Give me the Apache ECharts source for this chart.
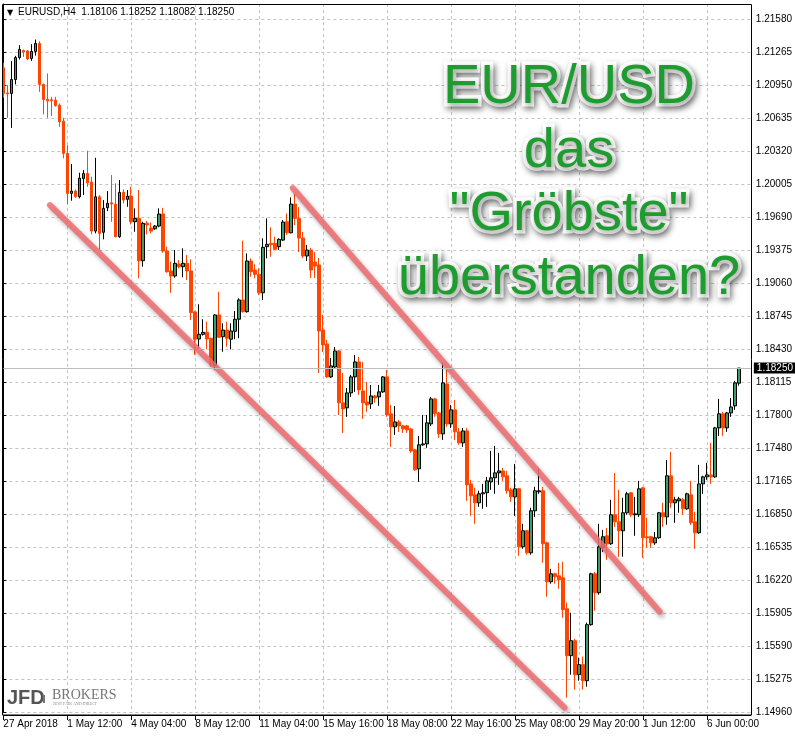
<!DOCTYPE html>
<html><head><meta charset="utf-8">
<script src="https://cdn.jsdelivr.net/npm/echarts@6/dist/echarts.min.js"></script>
<style>html,body{margin:0;padding:0;background:#fff}#c{width:795px;height:736px}</style>
</head><body><div id="c"></div>
<script>
// EURUSD H4 candles (from 27 Apr 2018 to 6 Jun 2018)
const opens = [1.21118,1.20879,1.20874,1.21007,1.21217,1.21284,1.21280,1.21208,1.21275,1.21351,1.20960,1.20819,1.20813,1.20810,1.20762,1.20609,1.20301,1.19919,1.19941,1.19887,
1.20059,1.20110,1.20027,1.19559,1.19887,1.19547,1.19782,1.19829,1.19817,1.19505,1.19929,1.19862,1.19893,1.19648,1.19680,1.19276,1.19633,1.19588,1.19581,1.19607,
1.19722,1.19368,1.19178,1.19130,1.19244,1.19219,1.19251,1.19178,1.18786,1.18528,1.18573,1.18592,1.18535,1.18274,1.18758,1.18550,1.18614,1.18526,1.18602,1.18717,
1.18901,1.18789,1.19273,1.19187,1.19146,1.18970,1.19410,1.19442,1.19442,1.19410,1.19473,1.19648,1.19543,1.19817,1.19680,1.19492,1.19321,1.19378,1.19263,1.19235,
1.18614,1.18481,1.18166,1.18261,1.18414,1.17918,1.17870,1.18013,1.18166,1.18309,1.18032,1.17927,1.17908,1.17984,1.17975,1.18023,1.18166,1.17813,1.17689,1.17736,
1.17698,1.17698,1.17669,1.17469,1.17288,1.17517,1.17526,1.17717,1.17956,1.17822,1.17622,1.18099,1.17717,1.17851,1.17641,1.17536,1.17650,1.17144,1.17039,1.16963,
1.17049,1.17059,1.17163,1.17202,1.17249,1.17268,1.17221,1.17087,1.17020,1.17097,1.16543,1.16696,1.16486,1.16887,1.17068,1.17078,1.16581,1.16209,1.16285,1.16266,
1.16247,1.15951,1.15503,1.15646,1.15321,1.15417,1.15264,1.15799,1.16285,1.16104,1.16534,1.16648,1.16572,1.16849,1.16782,1.16696,1.16868,1.17059,1.16849,1.16849,
1.17106,1.16639,1.16639,1.16581,1.16629,1.16868,1.16829,1.17221,1.16963,1.16982,1.16992,1.16906,1.17039,1.16782,1.16677,1.17144,1.17211,1.17230,1.17211,1.17679,
1.17813,1.17679,1.17822,1.17889,1.18106];
const highs = [1.21166,1.20953,1.21182,1.21233,1.21335,1.21294,1.21287,1.21344,1.21389,1.21373,1.20969,1.21065,1.20841,1.20841,1.20778,1.20641,1.20380,1.20199,1.19957,1.20116,
1.20142,1.20326,1.20078,1.20259,1.19903,1.19855,1.19941,1.20094,1.20015,1.20046,1.19957,1.19951,1.19982,1.19776,1.19951,1.19648,1.19655,1.19642,1.19617,1.19776,
1.19782,1.19410,1.19266,1.19378,1.19282,1.19394,1.19330,1.19289,1.18796,1.18860,1.18717,1.18694,1.18541,1.18767,1.18980,1.18678,1.18694,1.18678,1.18796,1.18917,
1.19467,1.19346,1.19299,1.19241,1.19203,1.19490,1.19680,1.19595,1.19505,1.19490,1.19664,1.19728,1.19881,1.19919,1.19788,1.19550,1.19426,1.19397,1.19359,1.19302,
1.18758,1.18519,1.18347,1.18452,1.18423,1.18204,1.18061,1.18185,1.18376,1.18357,1.18309,1.18118,1.18089,1.17994,1.18089,1.18175,1.18232,1.17898,1.17889,1.17755,
1.17708,1.17708,1.17679,1.17478,1.17603,1.17803,1.17803,1.17975,1.17965,1.17832,1.18299,1.18232,1.17898,1.17946,1.17679,1.17679,1.17679,1.17183,1.17106,1.17078,
1.17144,1.17211,1.17459,1.17507,1.17440,1.17297,1.17268,1.17106,1.17335,1.17106,1.16763,1.16705,1.16915,1.17116,1.17288,1.17116,1.16591,1.16333,1.16295,1.16390,
1.16400,1.16009,1.15913,1.15665,1.15484,1.15493,1.15818,1.16295,1.16304,1.16763,1.16705,1.16724,1.16992,1.17249,1.17087,1.17011,1.17068,1.17068,1.17020,1.17173,
1.17116,1.16820,1.16648,1.16686,1.16877,1.16963,1.17373,1.17450,1.17020,1.17020,1.17011,1.17059,1.17173,1.16877,1.17326,1.17221,1.17345,1.17536,1.17689,1.17956,
1.17832,1.17832,1.17965,1.18128,1.18252];
const lows = [1.20832,1.20641,1.20545,1.20960,1.21198,1.21223,1.21192,1.21185,1.21236,1.20889,1.20673,1.20641,1.20657,1.20746,1.20555,1.20253,1.19817,1.19849,1.19877,1.19871,
1.19903,1.19982,1.19528,1.19537,1.19378,1.19480,1.19750,1.19648,1.19499,1.19495,1.19824,1.19791,1.19623,1.19553,1.19108,1.19219,1.19528,1.19537,1.19569,1.19595,
1.19352,1.19161,1.18970,1.19114,1.19203,1.19117,1.19092,1.18710,1.18376,1.18440,1.18560,1.18430,1.18264,1.18233,1.18541,1.18407,1.18455,1.18430,1.18526,1.18535,
1.18780,1.18780,1.19123,1.19108,1.18948,1.18901,1.19299,1.19314,1.19378,1.19378,1.19464,1.19521,1.19537,1.19617,1.19359,1.19302,1.19273,1.19111,1.19111,1.18204,
1.18404,1.18156,1.18156,1.18242,1.17803,1.17631,1.17784,1.17975,1.18023,1.17994,1.17765,1.17832,1.17860,1.17918,1.17889,1.18013,1.17784,1.17498,1.17612,1.17641,
1.17631,1.17631,1.17440,1.17268,1.17163,1.17507,1.17488,1.17698,1.17784,1.17583,1.17564,1.17689,1.17679,1.17564,1.17517,1.17498,1.16982,1.16839,1.16763,1.16925,
1.16906,1.16925,1.17087,1.17049,1.17135,1.17173,1.17049,1.16973,1.16839,1.16457,1.16524,1.16467,1.16467,1.16829,1.17049,1.16390,1.16066,1.16190,1.16190,1.16142,
1.15865,1.15102,1.15321,1.15178,1.15264,1.15178,1.15207,1.15789,1.15932,1.16085,1.16495,1.16419,1.16562,1.16734,1.16448,1.16448,1.16849,1.16829,1.16648,1.16829,
1.16438,1.16534,1.16534,1.16562,1.16619,1.16734,1.16753,1.16915,1.16772,1.16868,1.16849,1.16896,1.16753,1.16524,1.16667,1.17049,1.17183,1.17144,1.17202,1.17603,
1.17603,1.17641,1.17784,1.17851,1.18082];
const closes = [1.20874,1.20870,1.21007,1.21217,1.21294,1.21271,1.21204,1.21275,1.21351,1.20960,1.20816,1.20803,1.20803,1.20759,1.20603,1.20301,1.19919,1.19941,1.19887,1.20065,
1.20110,1.20020,1.19559,1.19887,1.19537,1.19776,1.19824,1.19817,1.19505,1.19929,1.19855,1.19893,1.19648,1.19680,1.19276,1.19633,1.19617,1.19559,1.19607,1.19722,
1.19368,1.19171,1.19130,1.19251,1.19219,1.19251,1.19178,1.18780,1.18526,1.18573,1.18592,1.18528,1.18280,1.18758,1.18545,1.18614,1.18535,1.18605,1.18717,1.18901,
1.18789,1.19273,1.19171,1.19146,1.18970,1.19404,1.19432,1.19429,1.19385,1.19480,1.19645,1.19543,1.19817,1.19680,1.19492,1.19321,1.19378,1.19187,1.19225,1.18605,
1.18471,1.18166,1.18271,1.18414,1.17918,1.17860,1.18013,1.18166,1.18309,1.18042,1.17918,1.17898,1.17984,1.17965,1.18023,1.18166,1.17803,1.17689,1.17736,1.17698,
1.17669,1.17660,1.17459,1.17278,1.17517,1.17526,1.17727,1.17956,1.17813,1.17622,1.18109,1.17717,1.17851,1.17641,1.17536,1.17650,1.17135,1.17030,1.16963,1.17049,
1.17059,1.17173,1.17202,1.17249,1.17268,1.17211,1.17078,1.17020,1.17097,1.16543,1.16696,1.16486,1.16887,1.17078,1.17078,1.16572,1.16209,1.16285,1.16257,1.16228,
1.15942,1.15503,1.15646,1.15321,1.15417,1.15264,1.15799,1.16285,1.16104,1.16543,1.16639,1.16572,1.16849,1.16782,1.16696,1.16868,1.17049,1.16849,1.16858,1.17097,
1.16629,1.16629,1.16581,1.16629,1.16868,1.16829,1.17221,1.16963,1.16992,1.17001,1.16906,1.17049,1.16772,1.16677,1.17144,1.17211,1.17230,1.17211,1.17679,1.17813,
1.17679,1.17822,1.17879,1.18109,1.18250];

// bar slots on the time axis (the last ones are the empty right margin)
const BAR_COUNT = 188;
const categories = Array.from({length: BAR_COUNT}, (_, i) => 'bar' + i);
const LABEL_EVERY = 16;
const xTickLabels = ['27 Apr 2018','1 May 12:00','4 May 04:00','8 May 12:00','11 May 04:00','15 May 16:00',
  '18 May 08:00','22 May 16:00','25 May 08:00','29 May 20:00','1 Jun 12:00','6 Jun 00:00'];
const yTickLabels = ['1.14960','1.15275','1.15590','1.15905','1.16220','1.16535','1.16850','1.17165','1.17480','1.17800','1.18115',
  '1.18430','1.18745','1.19060','1.19375','1.19690','1.20005','1.20320','1.20635','1.20950','1.21265','1.21580'];
const Y_MIN = 1.14960, Y_TOP_TICK = 1.21580;
const Y_STEP = (Y_TOP_TICK - Y_MIN) / (yTickLabels.length - 1);
const Y_MAX = 1.217283;

// channel trend lines: [bar index, price]
const lowerChannel = [[11.67, 1.19807], [140.4, 1.15006]];
const upperChannel = [[72.4, 1.19970], [164.2, 1.15923]];

const headline = ['EUR/USD', 'das', '"Gröbste"', 'überstanden?'];

const candleData = opens.map((o, i) => [o, closes[i], lows[i], highs[i]]);
const last = closes.length - 1;
const FONT = '"Liberation Sans", Arial, sans-serif';
const gridLine = {show: true, lineStyle: {color: '#c4c4c4', type: [3, 3], width: 1}};
const showIdx = (idx) => idx % LABEL_EVERY === 0 && idx / LABEL_EVERY < xTickLabels.length;

const chart = echarts.init(document.getElementById('c'), null, {renderer: 'canvas'});
const channelStyle = {color: 'rgba(240,110,115,0.85)', width: 6, cap: 'round',
  shadowColor: 'rgba(0,0,0,0.35)', shadowBlur: 4, shadowOffsetX: 2, shadowOffsetY: 3};

chart.setOption({
  animation: false,
  backgroundColor: '#fff',
  grid: {left: 3.33, right: 43.67, top: 4, bottom: 23.5, containLabel: false},
  xAxis: [{
    type: 'category', data: categories, boundaryGap: false, offset: 2.5,
    axisLine: {show: true, lineStyle: {color: '#000', width: 1}},
    axisTick: {show: true, interval: (i) => showIdx(i), length: 5, lineStyle: {color: '#000'}},
    axisLabel: {interval: (i) => showIdx(i), align: 'left', margin: 4, fontFamily: FONT, fontSize: 10, color: '#000',
      formatter: (v, idx) => xTickLabels[idx / LABEL_EVERY] || ''},
    splitLine: Object.assign({interval: (i) => showIdx(i)}, gridLine)
  }, {
    type: 'value', min: 0, max: BAR_COUNT - 1, show: false
  }],
  yAxis: {
    type: 'value', position: 'right', min: Y_MIN, max: Y_MAX, interval: Y_STEP, scale: true,
    axisLine: {show: true, lineStyle: {color: '#000', width: 1}},
    axisTick: {show: true, length: 3, lineStyle: {color: '#000'}},
    axisLabel: {margin: 5, fontFamily: FONT, fontSize: 10, color: '#000', showMaxLabel: false,
      formatter: (v) => { const k = Math.round((v - Y_MIN) / Y_STEP); return yTickLabels[k] || ''; }},
    splitLine: gridLine
  },
  series: [{
    type: 'candlestick', data: candleData, barWidth: 3, z: 2,
    itemStyle: {color: '#3a9d6a', color0: '#ff4500', borderColor: '#000', borderColor0: '#ff4500', borderWidth: 1}
  }, {
    type: 'line', xAxisIndex: 1, data: lowerChannel, symbol: 'none', z: 3, lineStyle: channelStyle, silent: true,
    markLine: {
      silent: true, symbol: 'none', animation: false, precision: 5,
      data: [{yAxis: closes[last]}],
      lineStyle: {color: '#bdbdbd', type: 'solid', width: 1, shadowBlur: 0, shadowColor: 'transparent'},
      label: {show: true, position: 'end', distance: 3, formatter: closes[last].toFixed(5),
        backgroundColor: '#000', color: '#fff', fontFamily: FONT, fontSize: 10, padding: [1, 3, 0, 3]}
    }
  }, {
    type: 'line', xAxisIndex: 1, data: upperChannel, symbol: 'none', z: 3, lineStyle: channelStyle, silent: true
  }],
  graphic: [
    {type: 'rect', z: 50, silent: true, shape: {x: 2.5, y: 4.5, width: 749, height: 710.5},
      style: {fill: 'none', stroke: '#000', lineWidth: 1}},
    {type: 'text', z: 50, left: 7, top: 9, style: {text: '▼', font: '8px "DejaVu Sans"', fill: '#000'}},
    {type: 'text', z: 50, left: 18, top: 7, style: {
      text: 'EURUSD,H4  ' + [opens[last], highs[last], lows[last], closes[last]].map(v => v.toFixed(5)).join(' '),
      font: '10px ' + FONT, fill: '#000'}},
    ...headline.map((t, k) => ({
      type: 'text', z: 100, silent: true, x: 569, y: 88 + k * 63.5,
      style: {text: t, font: '56px ' + FONT, fill: '#1f9c30',
        stroke: '#fff', lineWidth: 7, align: 'center', verticalAlign: 'middle',
        textShadowColor: 'rgba(0,0,0,0.45)', textShadowBlur: 6, textShadowOffsetX: 2, textShadowOffsetY: 3}
    })),
    {type: 'text', z: 50, x: 7, y: 698, style: {text: 'JFD', font: 'bold 20px ' + FONT, fill: '#555', verticalAlign: 'middle'}},
    {type: 'rect', z: 50, shape: {x: 43, y: 695, width: 2, height: 8}, style: {fill: '#777'}},
    {type: 'text', z: 50, x: 52, y: 695.5, style: {text: 'BROKERS', font: '14px "Liberation Serif", serif', fill: '#777', verticalAlign: 'middle'}},
    {type: 'text', z: 50, x: 53, y: 704, style: {text: 'JUST FAIR AND DIRECT', font: '4px "Liberation Serif", serif', fill: '#888', verticalAlign: 'middle'}}
  ]
});
</script>
</body></html>
